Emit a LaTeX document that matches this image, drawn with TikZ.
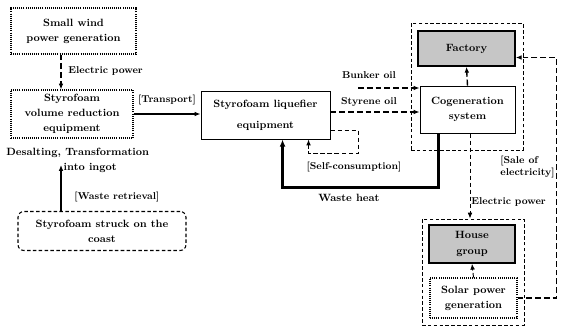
\documentclass[tikz,border=0pt]{standalone}
\usetikzlibrary{arrows.meta, positioning, calc}
\newcommand{\diagfont}{\fontsize{9}{13}\selectfont\bfseries}
\newcommand{\tagfont}{\fontsize{8.5}{10}\selectfont\bfseries}
\begin{document}
\begin{tikzpicture}[
    x=0.03cm, y=-0.03cm,
    unit/.style={draw, thick, align=center, font=\diagfont, inner sep=1pt},
    softunit/.style={unit, densely dotted, line width=0.9pt},
    shaded/.style={unit, fill=gray!45, line width=1.3pt},
    zone/.style={draw, densely dashed, line width=0.7pt},
    tag/.style={font=\tagfont, inner sep=1pt},
    dasharrow/.style={-{Latex[length=5pt, width=4pt]}, dashed, line width=1.2pt, dash pattern=on 5pt off 2.5pt},
    thinarrow/.style={-{Latex[length=5pt, width=4pt]}, dashed, line width=0.8pt, dash pattern=on 4pt off 2pt},
    solidarrow/.style={-{Latex[length=5pt, width=4pt]}, line width=1.3pt},
    heatarrow/.style={-{Latex[length=6pt, width=5pt]}, line width=2.4pt}
]
\useasboundingbox (0,0) rectangle (561,329);

% left column
\node[softunit, minimum width=3.75cm, minimum height=1.38cm] (wind) at (73.5,31) {Small wind\\power generation};
\node[softunit, minimum width=3.66cm, minimum height=1.44cm] (reduce) at (72,114) {Styrofoam\\volume reduction\\equipment};
\node[tag, anchor=west, align=left, font=\diagfont] (desalt) at (5,160) {Desalting, Transformation\\\hspace*{1.72cm}into ingot};
\node[softunit, densely dashed, rounded corners=5pt, minimum width=5.04cm, minimum height=1.17cm] (coast) at (102,231) {Styrofoam struck on the\\coast};

\draw[dasharrow] ($(wind.south)+(-12.5,0)$) -- ($(reduce.north)+(-11,0)$);
\node[tag, anchor=west] (elecleft) at (67,71) {Electric power};
\coordinate (ingot) at (61,165);
\draw[solidarrow] (coast.north -| ingot) -- (ingot);
\node[tag, anchor=west] (retrieval) at (73,197) {[Waste retrieval]};

% liquefier
\node[unit, minimum width=3.87cm, minimum height=1.44cm] (liquefier) at (265.5,115) {Styrofoam liquefier\\[5pt]equipment};
\draw[solidarrow] (reduce.east) -- (reduce.east -| liquefier.west);
\node[tag] (transport) at (167,100) {[Transport]};

% plant zone
\node[zone, minimum width=3.36cm, minimum height=3.81cm] (plantzone) at (467,86.5) {};
\node[shaded, minimum width=2.91cm, minimum height=1.05cm] (factory) at (466.5,48.5) {Factory};
\node[unit, minimum width=2.85cm, minimum height=1.41cm] (cogen) at (467.5,109.5) {Cogeneration\\system};

\coordinate (bunker) at (358,88);
\draw[dasharrow] (bunker) -- (bunker -| cogen.west);
\node[tag] (bunkerlbl) at (369,75) {Bunker oil};
\draw[dasharrow] (liquefier.east |- 0,112) -- (cogen.west |- 0,112);
\node[tag] (styrenelbl) at (369,102) {Styrene oil};
\draw[dasharrow] (cogen.north) -- (factory.south);

% self-consumption loop
\draw[thinarrow] ($(liquefier.south east)+(0,-9)$) -- ++(28,0) -- ++(0,23) -| ($(liquefier.south west)+(108,0)$);
\node[tag] (selflbl) at (354,167) {[Self-consumption]};

% waste heat
\draw[heatarrow] ($(cogen.south)+(-29,0)$) -- ++(0,54) -| ($(liquefier.south west)+(82,0)$);
\node[tag, font=\diagfont] (heatlbl) at (349,198) {Waste heat};

% house zone
\node[zone, minimum width=3.06cm, minimum height=3.18cm] (housezone) at (473,272) {};
\node[shaded, minimum width=2.58cm, minimum height=1.14cm] (house) at (472,244) {House\\group};
\node[softunit, minimum width=2.61cm, minimum height=1.2cm] (solar) at (473.5,298) {Solar power\\generation};

\draw[thinarrow] ($(cogen.south)+(2.5,0)$) -- ($(housezone.north)+(-3,0)$);
\node[tag, anchor=west] (elecright) at (470,202) {Electric power};
\draw[thinarrow] (solar.north) -- (house.south);
\draw[dasharrow] (solar.east) -- ++(39,0) |- ($(factory.east)+(0,9)$);
\node[tag, anchor=west, align=left] (salelbl) at (499,167) {[Sale of\\electricity]};

\end{tikzpicture}
\end{document}
